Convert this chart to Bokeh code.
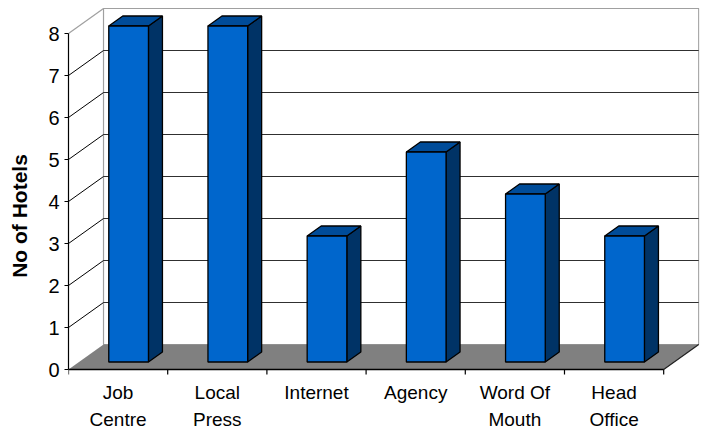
from bokeh.plotting import figure
from bokeh.models import Range1d, FixedTicker, LinearAxis
from bokeh.embed import file_html
from bokeh.resources import INLINE
from bokeh.core.properties import value

# ---- data ----
categories = ["Job\nCentre", "Local\nPress", "Internet", "Agency", "Word Of\nMouth", "Head\nOffice"]
hotels = [8, 8, 3, 5, 4, 3]
y_ticks = [0, 1, 2, 3, 4, 5, 6, 7, 8]
y_label = "No of Hotels"

# ---- 3D layout constants ----
N = len(categories)
YMAX = y_ticks[-1]
DX = 0.353      # depth offset (category units)
DY = 0.595      # depth offset (value units)
D0, D1 = 0.3, 0.7
BAR_W = 0.4
TICK = 0.12
FONT = "Liberation Sans"
Y_START, Y_END = -1.476, 8.786
X_END = 6.361

p = figure(width=701, height=431,
           x_range=Range1d(0, X_END),
           y_range=Range1d(Y_START, Y_END),
           output_backend="svg", toolbar_location=None,
           min_border_left=68, min_border_right=2, min_border_top=0, min_border_bottom=0,
           x_axis_location=None, y_axis_location=None)
p.grid.visible = False
p.outline_line_color = None
p.background_fill_color = "white"
p.border_fill_color = "white"

# back wall
p.quad(left=[DX], right=[N + DX], bottom=[DY], top=[YMAX + DY],
       fill_color="white", line_color="#A0A0A0", line_width=1.2)
# back gridlines
inner = y_ticks[1:-1]
p.segment(x0=[DX] * len(inner), x1=[N + DX] * len(inner),
          y0=[k + DY for k in inner], y1=[k + DY for k in inner],
          line_color="#303030", line_width=1.2)
# left wall lines
p.segment(x0=[0] * len(inner), x1=[DX] * len(inner),
          y0=inner, y1=[k + DY for k in inner], line_color="black", line_width=1)
p.segment(x0=[0], x1=[DX], y0=[YMAX], y1=[YMAX + DY], line_color="#A0A0A0", line_width=1.2)

# floor
p.patch(x=[0, N, N + DX, DX], y=[0, 0, DY, DY], fill_color="#808080", line_color=None)
p.segment(x0=[N], x1=[N + DX], y0=[0], y1=[DY], line_color="#202020", line_width=1.2)

# x axis line, ticks and labels
p.segment(x0=[0], x1=[N], y0=[0], y1=[0], line_color="black", line_width=1.6)
p.segment(x0=list(range(N + 1)), x1=list(range(N + 1)),
          y0=[0] * (N + 1), y1=[-TICK] * (N + 1), line_color="black", line_width=1.2)
p.text(x=[i + 0.5 for i in range(N)], y=[-0.29] * N, text=categories,
       text_align="center", text_baseline="top", text_font=value(FONT),
       text_font_size="19px", text_color="black", text_line_height=1.3)

# bars
fx0, fx1, fb, ft = [], [], [], []
sxs, sys, txs, tys = [], [], [], []
for i, v in enumerate(hotels):
    x0 = i + 0.5 - BAR_W / 2
    x1 = x0 + BAR_W
    fx0.append(x0 + D0 * DX); fx1.append(x1 + D0 * DX)
    fb.append(D0 * DY); ft.append(v + D0 * DY)
    sxs.append([x1 + D0 * DX, x1 + D1 * DX, x1 + D1 * DX, x1 + D0 * DX])
    sys.append([D0 * DY, D1 * DY, v + D1 * DY, v + D0 * DY])
    txs.append([x0 + D0 * DX, x1 + D0 * DX, x1 + D1 * DX, x0 + D1 * DX])
    tys.append([v + D0 * DY, v + D0 * DY, v + D1 * DY, v + D1 * DY])

p.patches(xs=sxs, ys=sys, fill_color="#003366", line_color="black", line_width=1.3)
p.patches(xs=txs, ys=tys, fill_color="#004C99", line_color="black", line_width=1.3)
p.quad(left=fx0, right=fx1, bottom=fb, top=ft, fill_color="#0066CC",
       line_color="black", line_width=1.3)

# y axis
yaxis = LinearAxis(ticker=FixedTicker(ticks=y_ticks), bounds=(0, YMAX),
                   axis_label=y_label)
yaxis.axis_line_color = "black"
yaxis.axis_line_width = 1.2
yaxis.major_tick_in = 0
yaxis.major_tick_out = 4
yaxis.major_tick_line_color = "black"
yaxis.minor_tick_in = 0
yaxis.minor_tick_out = 0
yaxis.major_label_standoff = 5
yaxis.major_label_text_font = FONT
yaxis.major_label_text_font_size = "20px"
yaxis.major_label_text_color = "black"
yaxis.axis_label_text_font = FONT
yaxis.axis_label_text_font_size = "21px"
yaxis.axis_label_text_font_style = "bold"
yaxis.axis_label_text_color = "black"
yaxis.axis_label_standoff = 14
p.add_layout(yaxis, "left")

open("out.html", "w").write(file_html(p, INLINE))
